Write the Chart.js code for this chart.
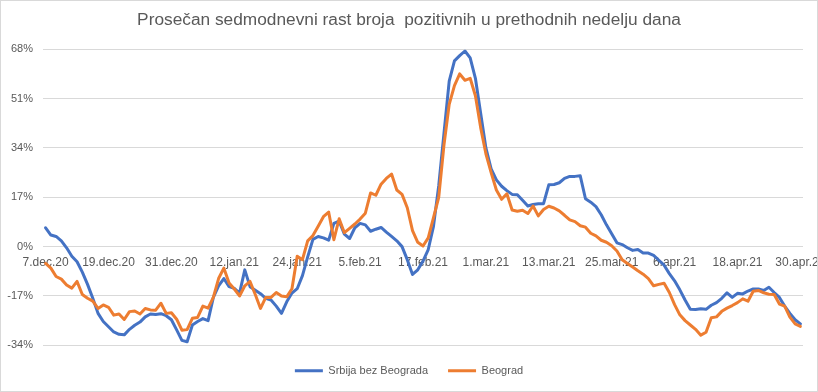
<!DOCTYPE html>
<html>
<head>
<meta charset="utf-8">
<script src="https://cdn.jsdelivr.net/npm/chart.js@4.4.0/dist/chart.umd.min.js"></script>
<style>
html,body{margin:0;padding:0;background:#fff;overflow:hidden}
#wrap{position:absolute;left:0;top:0;width:818px;height:392px;box-sizing:border-box;border:1px solid #d9d9d9;background:#fff}
canvas{display:block}
</style>
</head>
<body>
<div id="wrap"><canvas id="c" width="816" height="390"></canvas></div>
<script>
// ---- data ----
const startDate = [2020, 11, 7];           // 7 Dec 2020 (month index 11)
const dayCount = 145;                     // 7.dec.20 .. 30.apr.21
const monthNames = ['jan','feb','mar','apr','maj','jun','jul','avg','sep','okt','nov','dec'];
const tickLabels = ['7.dec.20','19.dec.20','31.dec.20','12.jan.21','24.jan.21','5.feb.21','17.feb.21','1.mar.21','13.mar.21','25.mar.21','6.apr.21','18.apr.21','30.apr.21'];
const yTicks = [-34, -17, 0, 17, 34, 51, 68];

const srbijaBezBeograda = [
  6.5, 4, 3.5, 2, -0.4, -3.3, -5.2, -8.8, -13, -17.8,
  -23, -25.8, -27.6, -29.4, -30.2, -30.4, -28.5, -27.1, -26, -24.2,
  -23.2, -23.4, -23.1, -23.8, -25.2, -28.7, -32.3, -32.8, -27, -25.8,
  -24.8, -25.5, -17.5, -13.5, -11, -13.8, -14.4, -16, -8, -13.8,
  -15, -16.2, -17.8, -18.4, -20.5, -23, -19, -16, -14.5, -10,
  -3.5, 2.5, 3.5, 3, 2.2, 8, 8.8, 4.3, 2.8, 6.5,
  8, 7.5, 5.3, 6, 6.6, 5, 3.5, 2, 0, -4.5,
  -9.6, -8, -5, -1, 7, 21, 39, 57, 64, 65.8,
  67.4, 65, 58, 46, 34, 26.8, 23, 20.8, 19.3, 18,
  17.9, 16, 14, 14.5, 14.8, 14.8, 21.3, 21.4, 22, 23.5,
  24.2, 24.2, 24.4, 16.5, 15.3, 13.8, 11, 7.5, 4.4, 1.3,
  0.7, -0.4, -1.3, -1, -2.2, -2.2, -3, -4.7, -6.4, -9.3,
  -11.8, -14.9, -18.4, -21.6, -21.7, -21.4, -21.6, -20.2, -19.3, -17.8,
  -15.9, -17.5, -16.1, -16.3, -15.3, -14.6, -14.6, -15.1, -14, -15.8,
  -17.5, -20.5, -23, -25.2, -26.6
];
const beograd = [
  -5.8, -7.4, -10.3, -11.2, -13.2, -14.3, -12, -16.5, -17.8, -18.8,
  -21.3, -20.1, -20.9, -23.6, -23.2, -25.1, -22.4, -22.2, -23.2, -21.3,
  -21.8, -21.9, -19.5, -23, -22.8, -25, -28.8, -28.6, -24.7, -24.4,
  -20.5, -21.2, -17.5, -11, -7.4, -12.5, -14.6, -17, -13.5, -12,
  -16.5, -21.3, -17.5, -17.5, -15.8, -17, -17.3, -14.5, -3.3, -4.5,
  2, 3.8, 7, 10.3, 11.9, 2.4, 9.6, 4.8, 6.3, 7.8,
  9.5, 11.5, 18.5, 17.7, 21.5, 23.5, 25, 19.5, 18, 13.4,
  5.5, 1.5, 0.2, 3, 10, 17, 35, 49, 55.5, 59.5,
  57.3, 58, 52, 41, 32, 25.5, 19.5, 16.3, 18.2, 12.6,
  12.2, 12.5, 11.4, 14, 10.6, 12.8, 13.9, 13.3, 12.3, 10.8,
  9.2, 8.6, 7.2, 6.7, 4.6, 3.7, 2.2, 1.5, 0.3, -1.5,
  -4.5, -5.8, -7, -8.3, -9.5, -11, -13.5, -13, -12.6, -15.8,
  -20, -23.5, -25.5, -27, -28.5, -30.5, -29.5, -24.5, -24.2, -22.3,
  -21.2, -20.3, -19.3, -18, -18.8, -15.4, -15.1, -15.9, -16.4, -16.5,
  -19.8, -20.5, -24.3, -26.6, -27.5
];

// categories: one per day
const categories = [];
for (let i = 0; i < dayCount; i++) {
  const d = new Date(startDate[0], startDate[1], startDate[2] + i);
  categories.push(d.getDate() + '.' + monthNames[d.getMonth()] + '.' + String(d.getFullYear()).slice(2));
}

const textColor = '#595959';
const gridColor = '#d9d9d9';
Chart.defaults.font.family = "'Liberation Sans', Arial, sans-serif";
Chart.defaults.color = textColor;

new Chart(document.getElementById('c'), {
  type: 'line',
  data: {
    labels: categories,
    datasets: [
      { label: 'Srbija bez Beograda', data: srbijaBezBeograda, borderColor: '#4472C4', backgroundColor: '#4472C4',
        borderWidth: 3, pointRadius: 0, tension: 0, borderJoinStyle: 'round', borderCapStyle: 'round', order: 2 },
      { label: 'Beograd', data: beograd, borderColor: '#ED7D31', backgroundColor: '#ED7D31',
        borderWidth: 3, pointRadius: 0, tension: 0, borderJoinStyle: 'round', borderCapStyle: 'round', order: 1 }
    ]
  },
  options: {
    responsive: false,
    animation: false,
    layout: { padding: { left: 0, right: 0, top: 1.5, bottom: 4.7 } },
    plugins: {
      title: {
        display: true,
        text: 'Prosečan sedmodnevni rast broja  pozitivnih u prethodnih nedelju dana',
        color: textColor,
        font: { size: 17.3, weight: 'normal' },
        padding: { top: 7, bottom: 19 }
      },
      legend: {
        position: 'bottom',
        labels: {
          usePointStyle: true,
          pointStyle: 'line',
          pointStyleWidth: 28,
          color: textColor,
          font: { size: 11 },
          padding: 20,
          sort: (a, b) => a.datasetIndex - b.datasetIndex
        }
      },
      tooltip: { enabled: false }
    },
    scales: {
      x: {
        type: 'category',
        position: { y: 0 },
        offset: true,
        grid: { display: false, drawTicks: false },
        border: { display: false },
        afterFit: (scale) => { scale.paddingLeft = 0; scale.paddingRight = 0; },
        ticks: {
          autoSkip: false,
          maxRotation: 0,
          minRotation: 0,
          padding: 9,
          color: textColor,
          font: { size: 12 },
          callback: function (value, index) {
            const lab = categories[index];
            return tickLabels.includes(lab) ? lab : null;
          }
        }
      },
      y: {
        min: yTicks[0],
        max: yTicks[yTicks.length - 1],
        afterBuildTicks: (scale) => { scale.ticks = yTicks.map(v => ({ value: v })); },
        afterFit: (scale) => { scale.width = 42; },
        grid: { color: gridColor, lineWidth: 1, drawTicks: false },
        border: { display: false },
        ticks: {
          padding: 10,
          color: textColor,
          font: { size: 11 },
          callback: (v) => v + '%'
        }
      },
      yRight: {
        position: 'right',
        display: true,
        min: yTicks[0],
        max: yTicks[yTicks.length - 1],
        grid: { display: false, drawTicks: false },
        border: { display: false },
        ticks: { display: false },
        afterFit: (scale) => { scale.width = 14; scale.paddingTop = 0; scale.paddingBottom = 0; }
      }
    }
  }
});
</script>
</body>
</html>
